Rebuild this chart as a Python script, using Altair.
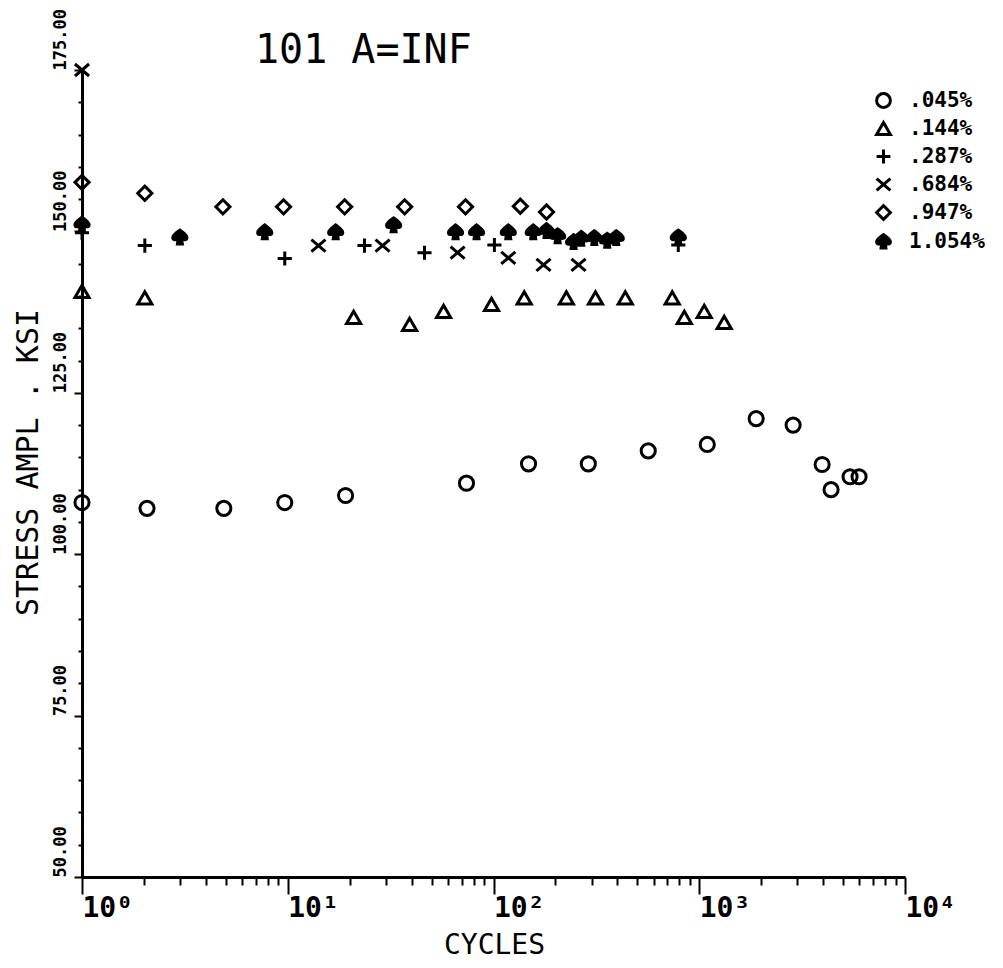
import altair as alt
import pandas as pd

# ---- data ----
series = [".045%", ".144%", ".287%", ".684%", ".947%", "1.054%"]

n_045 = [1, 2.07, 4.89, 9.67, 19.1, 73.9, 148, 289, 565, 1094, 1891, 2859, 3955, 4372, 5408, 5980]
s_045 = [108.0, 107.1, 107.1, 108.0, 109.1, 111.0, 114.0, 114.0, 116.0, 117.0, 121.0, 120.0, 113.9, 110.0, 112.0, 112.0]

n_144 = [1, 2.02, 20.9, 39.1, 57.2, 97.8, 141, 226, 313, 437, 739, 846, 1057, 1322]
s_144 = [140.7, 139.7, 136.7, 135.6, 137.6, 138.7, 139.7, 139.7, 139.7, 139.7, 139.7, 136.7, 137.6, 135.9]

n_287 = [1, 2.02, 9.67, 23.6, 46.2, 101, 791]
s_287 = [149.8, 147.8, 145.8, 147.8, 146.7, 147.9, 147.9]

n_684 = [1, 14.1, 28.9, 66.9, 118, 175, 259]
s_684 = [175.0, 147.8, 147.8, 146.7, 145.9, 144.8, 144.8]

n_947 = [1, 2.02, 4.84, 9.54, 18.9, 37.0, 73.1, 135, 181]
s_947 = [157.6, 155.9, 153.8, 153.8, 153.8, 153.8, 153.8, 153.9, 153.0]

n_1054 = [1, 2.99, 7.73, 17.1, 32.7, 65.4, 82.7, 118, 156, 181, 205, 245, 267, 309, 357, 395, 791]
s_1054 = [151.1, 149.1, 149.9, 149.9, 151.0, 149.9, 149.9, 149.9, 149.9, 150.1, 149.3, 148.4, 148.9, 149.0, 148.6, 149.0, 149.1]

x_tick_values = [1, 2, 3, 4, 5, 6, 7, 8, 9,
                 10, 20, 30, 40, 50, 60, 70, 80, 90,
                 100, 200, 300, 400, 500, 600, 700, 800, 900,
                 1000, 2000, 3000, 4000, 5000, 6000, 7000, 8000, 9000, 10000]
x_decades = [1, 10, 100, 1000, 10000]
x_decade_labels = ["10⁰", "10¹", "10²", "10³", "10⁴"]
y_tick_values = list(range(50, 180, 5))

title_text = "101 A=INF"
x_title = "CYCLES"
y_title = "STRESS AMPL . KSI"

# ---- build table ----
rows = []
for name, ns, ss in zip(series, [n_045, n_144, n_287, n_684, n_947, n_1054],
                        [s_045, s_144, s_287, s_684, s_947, s_1054]):
    for n, s in zip(ns, ss):
        rows.append({"series": name, "cycles": n, "stress": s})
df = pd.DataFrame(rows)

spade = ("M0,-1 C0.45,-0.65 1,-0.35 1,0.05 C1,0.4 0.6,0.45 0.25,0.2 "
         "L0.35,0.95 L-0.35,0.95 L-0.25,0.2 C-0.6,0.45 -1,0.4 -1,0.05 "
         "C-1,-0.35 -0.45,-0.65 0,-1 Z")
shapes = ["circle", "triangle-up", "M-1,0L1,0M0,-1L0,1",
          "M-1,-0.85L1,0.85M-1,0.85L1,-0.85", "diamond", spade]
fills = ["transparent"] * 5 + ["black"]
strokes = ["black"] * 6

decade_test = " || ".join(f"datum.value == {v}" for v in x_decades)
label_expr_x = " : ".join(
    f"datum.value == {v} ? '{t}'" for v, t in zip(x_decades, x_decade_labels)) + " : ''"

mono = "DejaVu Sans Mono"

legend_kw = dict(title=None, orient="none", legendX=791, legendY=20,
                 labelFont=mono, labelFontSize=21, labelFontWeight="bold",
                 labelColor="black", symbolSize=190, symbolStrokeWidth=3,
                 symbolStrokeColor="black", rowPadding=2, labelOffset=15,
                 padding=0)

points = alt.Chart(df).mark_point(filled=False, size=200, strokeWidth=3, opacity=1).encode(
    x=alt.X("cycles:Q",
            scale=alt.Scale(type="log", domain=[1, 10000], nice=False),
            axis=alt.Axis(values=x_tick_values, labelExpr=label_expr_x, title=x_title,
                          labelAlign="left", labelBaseline="top", labelPadding=0,
                          labelOverlap=False, labelFlush=False,
                          labelFont=mono, labelFontSize=28, labelFontWeight="bold",
                          tickSize={"condition": {"test": decade_test, "value": 17}, "value": 8},
                          tickWidth=2,
                          titleFont=mono, titleFontSize=28, titleFontWeight="normal",
                          titleX=412, titleY=68, titleBaseline="middle", titleAlign="center")),
    y=alt.Y("stress:Q",
            scale=alt.Scale(domain=[50, 175], nice=False, zero=False),
            axis=alt.Axis(values=y_tick_values,
                          labelExpr="datum.value % 25 == 0 ? format(datum.value, '.2f') : ''",
                          labelAngle=270, labelAlign="left", labelBaseline="alphabetic",
                          labelPadding=9, labelOverlap=False, labelFlush=False,
                          labelFont=mono, labelFontSize=17, labelFontWeight="bold",
                          tickSize={"condition": {"test": "datum.value % 25 == 0", "value": 8},
                                    "value": 4},
                          tickWidth=2,
                          title=y_title, titleFont=mono, titleFontSize=30, titleFontWeight="normal",
                          titleAngle=270, titleX=-54, titleY=392,
                          titleAlign="center", titleBaseline="middle")),
    shape=alt.Shape("series:N", scale=alt.Scale(domain=series, range=shapes),
                    legend=alt.Legend(**legend_kw)),
    fill=alt.Fill("series:N", scale=alt.Scale(domain=series, range=fills),
                  legend=alt.Legend(**legend_kw)),
    stroke=alt.Stroke("series:N", scale=alt.Scale(domain=series, range=strokes),
                      legend=alt.Legend(**legend_kw)),
)

title_layer = alt.Chart(pd.DataFrame({"t": [title_text]})).mark_text(
    font=mono, fontSize=40, align="left", baseline="alphabetic", color="black"
).encode(x=alt.value(173), y=alt.value(-7), text="t:N")

chart = alt.layer(points, title_layer).properties(
    width=823, height=807,
    autosize=alt.AutoSizeParams(type="none"),
    padding={"left": 74, "top": 62, "right": 90, "bottom": 83},
    background="white",
).configure_view(stroke=None).configure_axis(
    domainColor="black", domainWidth=3, tickColor="black", labelColor="black",
    titleColor="black", grid=False
)

chart.save("out.html", embed_options={"renderer": "svg", "actions": False})
